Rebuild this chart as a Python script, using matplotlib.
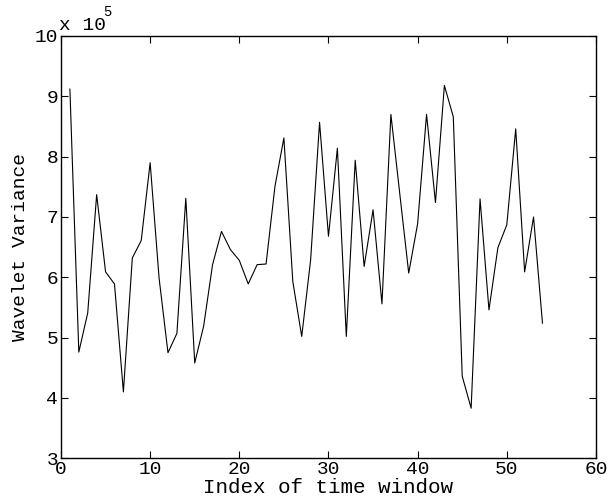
import matplotlib
matplotlib.use("Agg")
import matplotlib.pyplot as plt

x_index = list(range(1, 55))
variance_e5 = [9.12, 4.76, 5.41, 7.37, 6.09, 5.89, 4.10, 6.32, 6.61, 7.90,
               5.99, 4.75, 5.07, 7.31, 4.58, 5.19, 6.21, 6.76, 6.46, 6.28,
               5.89, 6.21, 6.22, 7.51, 8.31, 5.93, 5.02, 6.29, 8.57, 6.68,
               8.14, 5.02, 7.94, 6.18, 7.12, 5.56, 8.70, 7.38, 6.07, 6.89,
               8.70, 7.24, 9.18, 8.66, 4.36, 3.83, 7.30, 5.46, 6.49, 6.87,
               8.46, 6.09, 7.00, 5.24]
x_ticks = [0, 10, 20, 30, 40, 50, 60]
y_ticks = [3, 4, 5, 6, 7, 8, 9, 10]

plt.rcParams['font.family'] = ['Liberation Mono', 'DejaVu Sans Mono']

fig = plt.figure(figsize=(6.08, 5.04), dpi=100)
ax = fig.add_axes([0.1003, 0.0907, 0.8799, 0.8379])
ax.plot(x_index, variance_e5, color='black', linewidth=0.8)
ax.set_xlim(0, 60)
ax.set_ylim(3, 10)
ax.set_xticks(x_ticks)
ax.set_yticks(y_ticks)
ax.tick_params(direction='in', top=True, right=True, labelsize=14, length=5, pad=2)
for s in ax.spines.values():
    s.set_linewidth(1.0)
ax.set_xlabel('Index of time window', fontsize=15, labelpad=0)
ax.set_ylabel('Wavelet Variance', fontsize=14, labelpad=4)
fig.text(0.097, 0.932, 'x 10', fontsize=14, ha='left', va='bottom')
fig.text(0.169, 0.962, '5', fontsize=10, ha='left', va='bottom')
fig.savefig('out.png', dpi=100)
